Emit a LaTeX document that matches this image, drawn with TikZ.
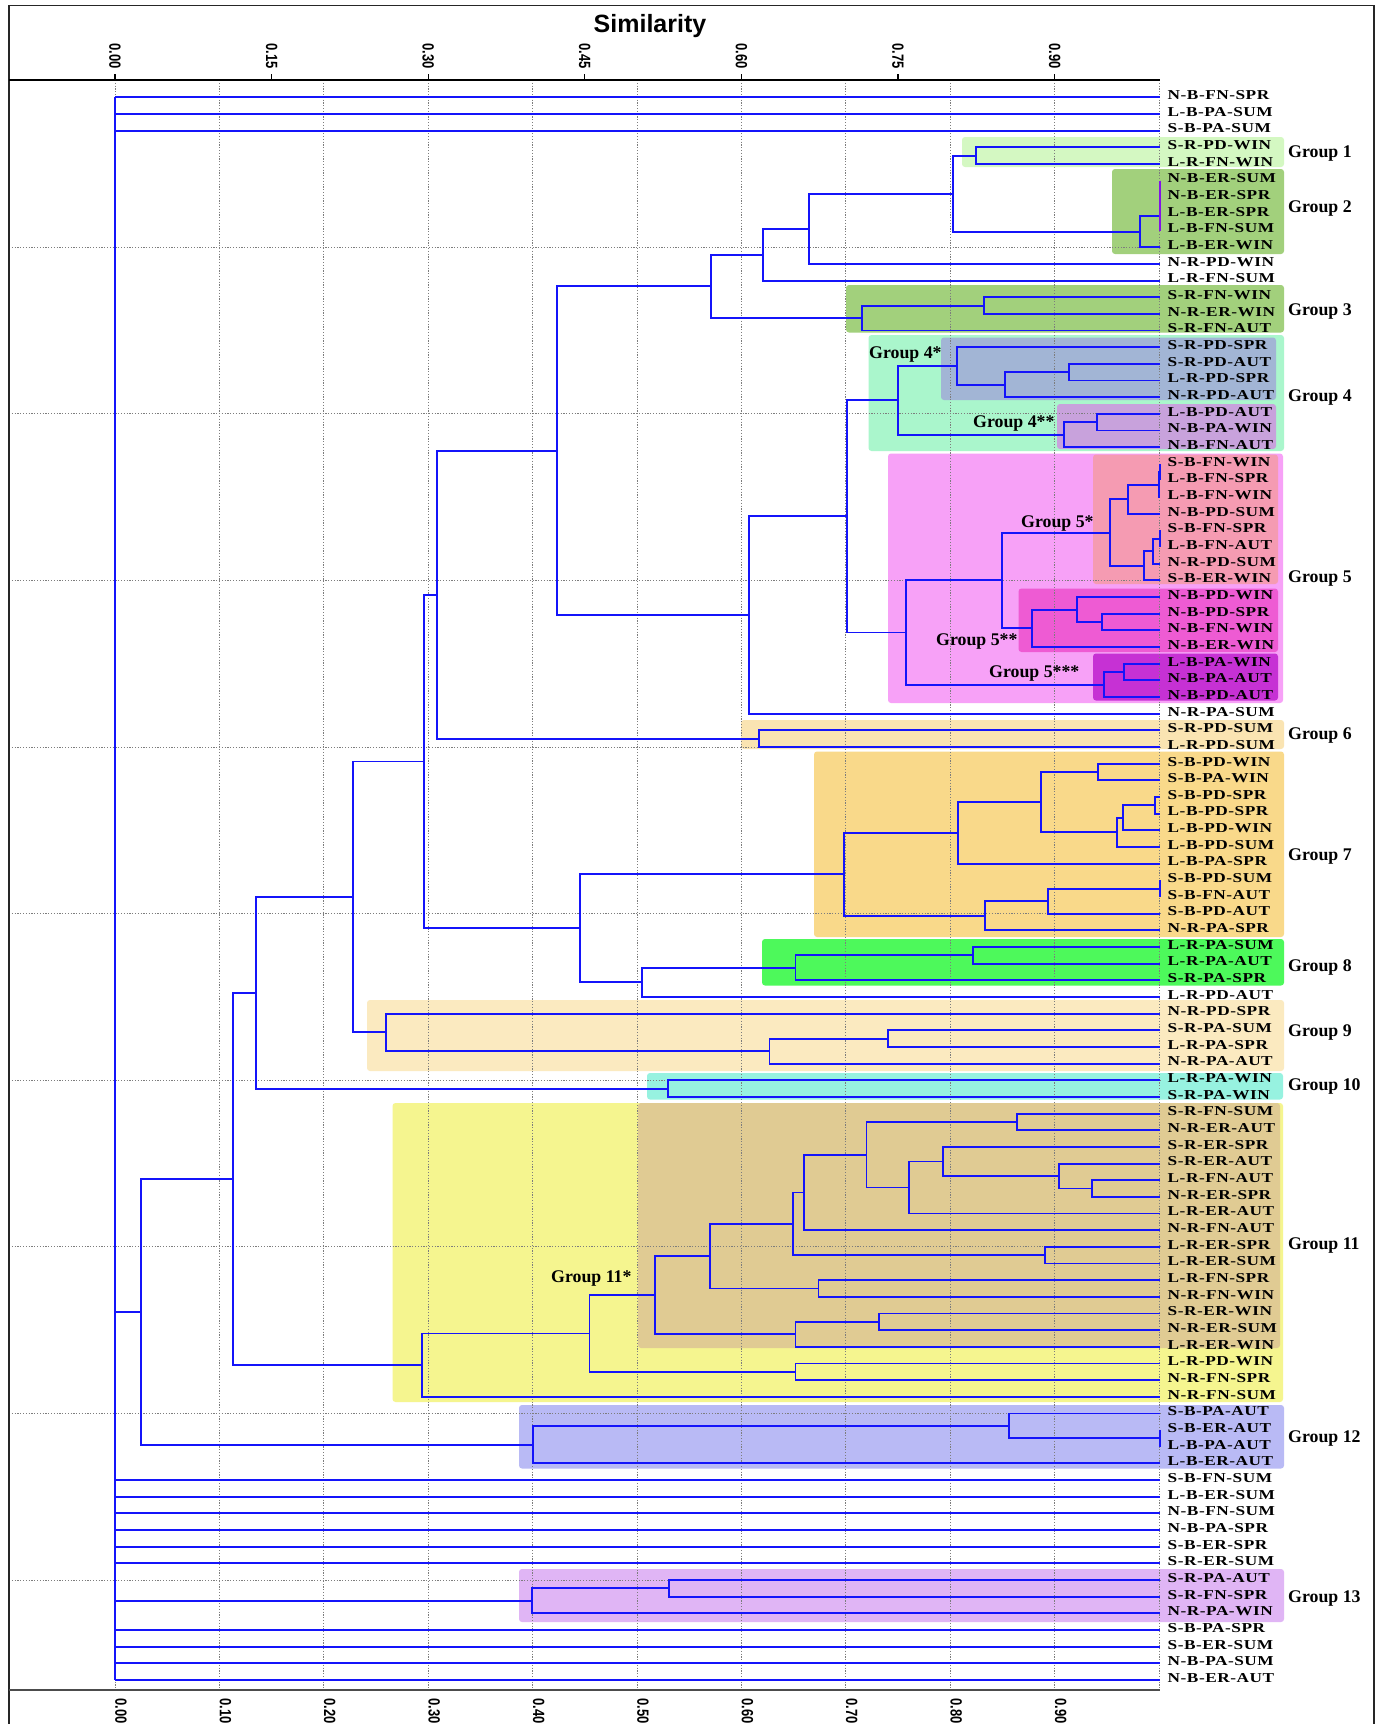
\documentclass[tikz,border=0pt]{standalone}
\usepackage{fontspec}
\setmainfont{Liberation Serif}
\newfontfamily\leaffont[LetterSpace=3]{Liberation Serif}
\newfontfamily\axfont{Liberation Sans}
\usetikzlibrary{calc}

\definecolor{treeblue}{RGB}{20,20,250}
\definecolor{treeviolet}{RGB}{130,20,230}
\definecolor{gridgray}{RGB}{125,125,125}
\definecolor{cGa}{RGB}{212,248,194}
\definecolor{cGb}{RGB}{162,208,124}
\definecolor{cGd}{RGB}{170,246,204}
\definecolor{cGds}{RGB}{162,181,213}
\definecolor{cGdss}{RGB}{200,162,220}
\definecolor{cGe}{RGB}{247,161,247}
\definecolor{cGes}{RGB}{245,155,178}
\definecolor{cGess}{RGB}{238,91,211}
\definecolor{cGesss}{RGB}{198,49,212}
\definecolor{cGf}{RGB}{250,228,178}
\definecolor{cGg}{RGB}{249,217,138}
\definecolor{cGh}{RGB}{77,249,91}
\definecolor{cGi}{RGB}{251,234,192}
\definecolor{cGj}{RGB}{151,242,224}
\definecolor{cGk}{RGB}{245,245,143}
\definecolor{cGks}{RGB}{224,203,147}
\definecolor{cGl}{RGB}{185,186,245}
\definecolor{cGm}{RGB}{224,181,245}

\tikzset{
  tree/.style={draw=treeblue, line width=1.9pt},
  gridln/.style={draw=gridgray, line width=1pt, dash pattern=on 1.2pt off 1.6pt},
  gbox/.style={rounded corners=3pt, draw=none},
  leaflab/.style={anchor=base west, inner sep=0pt, font=\leaffont\fontsize{13.6}{15}\selectfont\bfseries},
  grplab/.style={anchor=base west, inner sep=0pt, font=\fontsize{17.8}{20}\selectfont\bfseries},
  ticklab/.style={inner sep=0pt, font=\axfont\fontsize{13}{15}\selectfont\bfseries},
}

% merge: name, x, child1, child2
\newcommand\dmerge[4]{%
  \path ($(#3)!0.5!(#4)$) coordinate (m-#1);
  \coordinate (x-#1) at (#2,0);
  \coordinate (#1) at (m-#1 -| x-#1);
  \draw[tree] (#3) -| (#1) |- (#4);
}

\begin{document}
\begin{tikzpicture}[x=1pt,y=-1pt]
\useasboundingbox (0,0) rectangle (1380,1724);
\fill[white] (0,0) rectangle (1380,1724);

% ---------- group boxes ----------
\fill[gbox, cGa]   (962,137) rectangle (1284,167);
\fill[gbox, cGb]   (1112,169) rectangle (1284,254);
\fill[gbox, cGb]   (846,285) rectangle (1284,332.5);
\fill[gbox, cGd]   (868.5,335) rectangle (1284,451);
\fill[gbox, cGds]  (941,337.5) rectangle (1276,400);
\fill[gbox, cGdss] (1057,404) rectangle (1276,449);
\fill[gbox, cGe]   (888,453.5) rectangle (1283,703);
\fill[gbox, cGes]  (1093,454.5) rectangle (1278,584);
\fill[gbox, cGess] (1018.5,588.5) rectangle (1278,652);
\fill[gbox, cGesss](1093,653.5) rectangle (1278,700.5);
\fill[gbox, cGf]   (741,720) rectangle (1284,749);
\fill[gbox, cGg]   (814,751.5) rectangle (1284,937);
\fill[gbox, cGh]   (762,939) rectangle (1284,985.5);
\fill[gbox, cGi]   (367,1000) rectangle (1284,1071);
\fill[gbox, cGj]   (647,1073) rectangle (1283,1099.5);
\fill[gbox, cGk]   (392.5,1103) rectangle (1283,1402);
\fill[gbox, cGks]  (638,1103) rectangle (1280,1348);
\fill[gbox, cGl]   (519,1405) rectangle (1284,1468.5);
\fill[gbox, cGm]   (519,1569) rectangle (1284,1622);

% ---------- grid ----------
\foreach \k in {0,...,10}
  \draw[gridln] ({115+104.4*\k},80) -- ({115+104.4*\k},1690);
\foreach \k in {10,20,...,90}
  \draw[gridln] (9,{97.3+(\k-1)*16.66}) -- (1160,{97.3+(\k-1)*16.66});

% ---------- frame and axes ----------
\draw[line width=1.2pt, black!85] (9,1730) -- (9,5.5) -- (1374,5.5) -- (1374,1730);
\draw[line width=1.8pt, black] (9,80) -- (1160,80);
\draw[line width=2.6pt, black!70] (9,1690) -- (1160,1690);
\node[font=\axfont\fontsize{25}{28}\selectfont\bfseries, anchor=base, inner sep=0pt] (title) at (650,32.5) {Similarity};
\foreach \v [count=\k from 0] in {0.00,0.15,0.30,0.45,0.60,0.75,0.90}{
  \node[ticklab, rotate=-90, anchor=east] (tt\k) at ({115+156.6*\k},69) {\scalebox{1}[1.25]{\v}};
  \draw[line width=1.2pt] ({115+156.6*\k},74) -- ({115+156.6*\k},80);
}
\foreach \v [count=\k from 0] in {0.00,0.10,0.20,0.30,0.40,0.50,0.60,0.70,0.80,0.90}
  \node[ticklab, rotate=-90, anchor=west] (bt\k) at ({121+104.4*\k},1698) {\scalebox{1}[1.25]{\v}};

% ---------- leaves ----------
\foreach \lab [count=\i] in {N-B-FN-SPR,L-B-PA-SUM,S-B-PA-SUM,S-R-PD-WIN,L-R-FN-WIN,N-B-ER-SUM,N-B-ER-SPR,L-B-ER-SPR,L-B-FN-SUM,L-B-ER-WIN,N-R-PD-WIN,L-R-FN-SUM,S-R-FN-WIN,N-R-ER-WIN,S-R-FN-AUT,S-R-PD-SPR,S-R-PD-AUT,L-R-PD-SPR,N-R-PD-AUT,L-B-PD-AUT,N-B-PA-WIN,N-B-FN-AUT,S-B-FN-WIN,L-B-FN-SPR,L-B-FN-WIN,N-B-PD-SUM,S-B-FN-SPR,L-B-FN-AUT,N-R-PD-SUM,S-B-ER-WIN,N-B-PD-WIN,N-B-PD-SPR,N-B-FN-WIN,N-B-ER-WIN,L-B-PA-WIN,N-B-PA-AUT,N-B-PD-AUT,N-R-PA-SUM,S-R-PD-SUM,L-R-PD-SUM,S-B-PD-WIN,S-B-PA-WIN,S-B-PD-SPR,L-B-PD-SPR,L-B-PD-WIN,L-B-PD-SUM,L-B-PA-SPR,S-B-PD-SUM,S-B-FN-AUT,S-B-PD-AUT,N-R-PA-SPR,L-R-PA-SUM,L-R-PA-AUT,S-R-PA-SPR,L-R-PD-AUT,N-R-PD-SPR,S-R-PA-SUM,L-R-PA-SPR,N-R-PA-AUT,L-R-PA-WIN,S-R-PA-WIN,S-R-FN-SUM,N-R-ER-AUT,S-R-ER-SPR,S-R-ER-AUT,L-R-FN-AUT,N-R-ER-SPR,L-R-ER-AUT,N-R-FN-AUT,L-R-ER-SPR,L-R-ER-SUM,L-R-FN-SPR,N-R-FN-WIN,S-R-ER-WIN,N-R-ER-SUM,L-R-ER-WIN,L-R-PD-WIN,N-R-FN-SPR,N-R-FN-SUM,S-B-PA-AUT,S-B-ER-AUT,L-B-PA-AUT,L-B-ER-AUT,S-B-FN-SUM,L-B-ER-SUM,N-B-FN-SUM,N-B-PA-SPR,S-B-ER-SPR,S-R-ER-SUM,S-R-PA-AUT,S-R-FN-SPR,N-R-PA-WIN,S-B-PA-SPR,S-B-ER-SUM,N-B-PA-SUM,N-B-ER-AUT}{
  \coordinate (L\i) at (1160,{97.3+(\i-1)*16.66});
  \node[leaflab] (T\i) at (1167.5,{99.6+(\i-1)*16.66}) {\scalebox{1.27}[1]{\lab}};
}

% ---------- tree ----------
\dmerge{g1}{976}{L4}{L5}
\dmerge{g2a}{1160}{L6}{L7}
\dmerge{g2b}{1160}{g2a}{L8}
\dmerge{g2c}{1160}{g2b}{L9}
\dmerge{g2}{1140}{g2c}{L10}
\dmerge{a1}{953}{g1}{g2}
\dmerge{a2}{809}{a1}{L11}
\dmerge{a3}{763}{a2}{L12}
\dmerge{g3a}{984}{L13}{L14}
\dmerge{g3}{862}{g3a}{L15}
\dmerge{a4}{711}{a3}{g3}
\dmerge{g4a}{1069}{L17}{L18}
\dmerge{g4b}{1005}{g4a}{L19}
\dmerge{g4s}{957}{L16}{g4b}
\dmerge{g4d}{1097}{L20}{L21}
\dmerge{g4ss}{1064}{g4d}{L22}
\dmerge{g4}{898}{g4s}{g4ss}
\dmerge{g5a}{1160}{L23}{L24}
\dmerge{g5b}{1158.7}{g5a}{L25}
\dmerge{g5c}{1127.7}{g5b}{L26}
\dmerge{g5d}{1160}{L27}{L28}
\dmerge{g5e}{1153}{g5d}{L29}
\dmerge{g5f}{1144}{g5e}{L30}
\dmerge{g5s}{1110}{g5c}{g5f}
\dmerge{g5g}{1101.7}{L32}{L33}
\dmerge{g5h}{1077}{L31}{g5g}
\dmerge{g5ss}{1032}{g5h}{L34}
\dmerge{g5t}{1001.7}{g5s}{g5ss}
\dmerge{g5i}{1124.3}{L35}{L36}
\dmerge{g5sss}{1104}{g5i}{L37}
\dmerge{g5}{906}{g5t}{g5sss}
\dmerge{a5}{847}{g4}{g5}
\dmerge{a6}{749}{a5}{L38}
\dmerge{a7}{557}{a4}{a6}
\dmerge{g6}{759.4}{L39}{L40}
\dmerge{a8}{437.4}{a7}{g6}
\dmerge{g7a}{1098.3}{L41}{L42}
\dmerge{g7b}{1155}{L43}{L44}
\dmerge{g7c}{1122.7}{g7b}{L45}
\dmerge{g7d}{1116.7}{g7c}{L46}
\dmerge{g7e}{1041}{g7a}{g7d}
\dmerge{g7f}{958.3}{g7e}{L47}
\dmerge{g7g}{1160}{L48}{L49}
\dmerge{g7h}{1047.7}{g7g}{L50}
\dmerge{g7i}{985}{g7h}{L51}
\dmerge{g7}{843.8}{g7f}{g7i}
\dmerge{g8a}{973.3}{L52}{L53}
\dmerge{g8}{795.5}{g8a}{L54}
\dmerge{a9}{641.8}{g8}{L55}
\dmerge{a10}{580}{g7}{a9}
\dmerge{a11}{424}{a8}{a10}
\dmerge{g9a}{887.8}{L57}{L58}
\dmerge{g9b}{769.5}{g9a}{L59}
\dmerge{g9}{386}{L56}{g9b}
\dmerge{a12}{353.3}{a11}{g9}
\dmerge{g10}{668.2}{L60}{L61}
\dmerge{a13}{255.7}{a12}{g10}
\dmerge{g11a}{1017.3}{L62}{L63}
\dmerge{g11b}{1091.7}{L66}{L67}
\dmerge{g11c}{1059.3}{L65}{g11b}
\dmerge{g11d}{942.7}{L64}{g11c}
\dmerge{g11e}{909.3}{g11d}{L68}
\dmerge{g11f}{866.5}{g11a}{g11e}
\dmerge{g11g}{804}{g11f}{L69}
\dmerge{g11h}{1045}{L70}{L71}
\dmerge{g11i}{793.2}{g11g}{g11h}
\dmerge{g11j}{818.5}{L72}{L73}
\dmerge{g11k}{710}{g11i}{g11j}
\dmerge{g11l}{879.3}{L74}{L75}
\dmerge{g11m}{795.5}{g11l}{L76}
\dmerge{g11s}{655.3}{g11k}{g11m}
\dmerge{g11n}{795.5}{L77}{L78}
\dmerge{g11o}{589.5}{g11s}{g11n}
\dmerge{g11}{422.2}{g11o}{L79}
\dmerge{a14}{232.7}{a13}{g11}
\dmerge{g12a}{1160}{L81}{L82}
\dmerge{g12b}{1009.3}{L80}{g12a}
\dmerge{g12}{533}{g12b}{L83}
\dmerge{a15}{141}{a14}{g12}
\dmerge{g13a}{668.9}{L90}{L91}
\dmerge{g13}{532}{g13a}{L92}

\coordinate (rx) at (115,0);
\draw[tree] (L1 -| rx) -- (L96 -| rx);
\foreach \c in {L1,L2,L3,a15,L84,L85,L86,L87,L88,L89,g13,L93,L94,L95,L96}
  \draw[tree] (\c -| rx) -- (\c);
\draw[line width=1.9pt, treeviolet] (L6) -- (L9);

% ---------- group labels ----------
\node[grplab] (G1)  at (1288,157)   {Group 1};
\node[grplab] (G2)  at (1288,212)   {Group 2};
\node[grplab] (G3)  at (1288,315.5) {Group 3};
\node[grplab] (G4)  at (1288,401)   {Group 4};
\node[grplab] (G5)  at (1288,582.5) {Group 5};
\node[grplab] (G6)  at (1288,739)   {Group 6};
\node[grplab] (G7)  at (1288,860)   {Group 7};
\node[grplab] (G8)  at (1288,971)   {Group 8};
\node[grplab] (G9)  at (1288,1036)  {Group 9};
\node[grplab] (G10) at (1288,1090)  {Group 10};
\node[grplab] (G11) at (1288,1249)  {Group 11};
\node[grplab] (G12) at (1288,1442)  {Group 12};
\node[grplab] (G13) at (1288,1602.5){Group 13};
\node[grplab] (G4s)   at (869,358)  {Group 4*};
\node[grplab] (G4ss)  at (973,427)  {Group 4**};
\node[grplab] (G5s)   at (1021,527) {Group 5*};
\node[grplab] (G5ss)  at (936,645)  {Group 5**};
\node[grplab] (G5sss) at (989,677)  {Group 5***};
\node[grplab] (G11s)  at (551,1282) {Group 11*};
\end{tikzpicture}
\end{document}
